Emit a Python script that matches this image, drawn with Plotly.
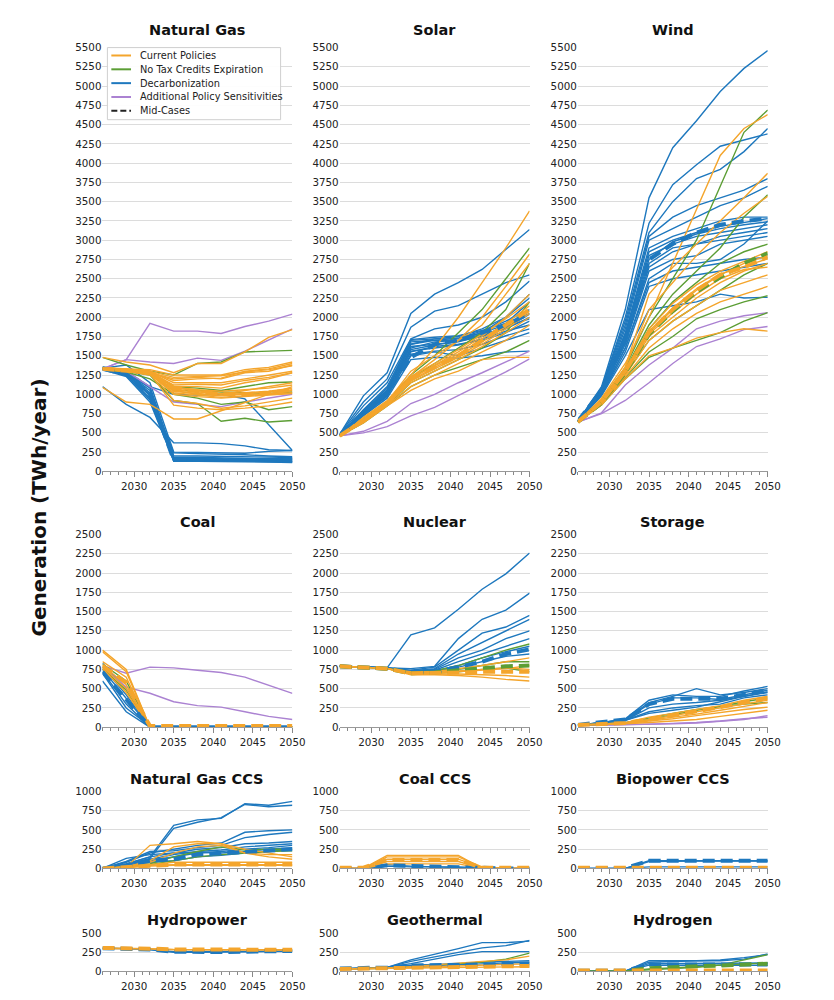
import plotly.graph_objects as go

YEARS = [2026, 2029, 2032, 2035, 2038, 2041, 2044, 2047, 2050]
X_TICKS = [2030, 2035, 2040, 2045, 2050]

PANEL_TITLES = ["Natural Gas", "Solar", "Wind", "Coal", "Nuclear", "Storage",
                "Natural Gas CCS", "Coal CCS", "Biopower CCS",
                "Hydropower", "Geothermal", "Hydrogen"]
Y_MAX = [5500, 5500, 5500, 2500, 2500, 2500, 1000, 1000, 1000, 500, 500, 500]

GROUP_NAMES = ["Current Policies", "No Tax Credits Expiration", "Decarbonization",
               "Additional Policy Sensitivities", "Mid-Cases"]
GROUP_COLORS = ["#F4A52C", "#5C9E35", "#1E78BE", "#AB82D2", "#222222"]

# ---------------- Natural Gas ----------------
NG_DECARB = [
    [1330, 1250, 950, 150, 150, 145, 140, 135, 130],
    [1340, 1260, 1000, 160, 160, 155, 150, 150, 150],
    [1320, 1230, 900, 140, 140, 140, 135, 130, 120],
    [1350, 1280, 1050, 180, 180, 175, 170, 165, 160],
    [1360, 1300, 1100, 200, 200, 195, 190, 185, 180],
    [1330, 1270, 1020, 130, 130, 130, 125, 120, 115],
    [1345, 1290, 1080, 170, 165, 160, 160, 160, 170],
    [1335, 1265, 980, 145, 150, 150, 145, 140, 140],
    [1325, 1245, 930, 135, 135, 135, 130, 125, 125],
    [1100, 870, 700, 370, 370, 360, 330, 280, 270],
    [1330, 1260, 1000, 240, 230, 225, 215, 200, 190],
    [1340, 1380, 1150, 250, 245, 240, 235, 260, 270],
    [1330, 1250, 1100, 1000, 990, 1000, 940, 600, 270],
]
NG_CURRENT = [
    [1480, 1420, 1380, 1280, 1400, 1400, 1550, 1740, 1840],
    [1340, 1330, 1320, 1250, 1250, 1250, 1320, 1350, 1420],
    [1320, 1300, 1280, 1200, 1220, 1200, 1280, 1300, 1380],
    [1330, 1310, 1300, 1150, 1150, 1150, 1200, 1250, 1300],
    [1325, 1305, 1290, 1120, 1130, 1120, 1180, 1220, 1280],
    [1320, 1300, 1250, 1080, 1050, 1000, 1050, 1100, 1150],
    [1340, 1320, 1280, 1050, 1000, 980, 1000, 1000, 1050],
    [1330, 1300, 1260, 1020, 990, 960, 980, 1000, 1020],
    [1090, 900, 870, 680, 680, 790, 900, 1000, 1100],
    [1350, 1330, 1300, 920, 880, 820, 850, 900, 950],
    [1330, 1310, 1290, 1100, 1100, 1080, 1150, 1200, 1280],
    [1320, 1300, 1270, 860, 820, 800, 820, 850, 900],
    [1335, 1315, 1290, 1180, 1200, 1210, 1300, 1330, 1400],
    [1330, 1310, 1270, 1060, 1030, 1010, 1020, 1040, 1080],
    [1325, 1300, 1265, 1040, 1010, 990, 1010, 1030, 1060],
    [1340, 1320, 1285, 1090, 1060, 1040, 1060, 1080, 1120],
    [1330, 1305, 1275, 1000, 970, 950, 970, 990, 1010],
    [1345, 1325, 1300, 1220, 1230, 1240, 1290, 1320, 1370],
]
NG_NOTAX = [
    [1480, 1380, 1300, 1250, 1400, 1420, 1550, 1560, 1570],
    [1330, 1300, 1250, 920, 880, 650, 690, 640, 660],
    [1320, 1290, 1200, 1000, 950, 870, 900, 800, 840],
    [1340, 1310, 1280, 1100, 1080, 1050, 1100, 1150, 1160],
    [1330, 1300, 1260, 1050, 1050, 1030, 1020, 1010, 1030],
]
NG_ADDL = [
    [1330, 1450, 1920, 1820, 1820, 1790, 1880, 1950, 2040],
    [1330, 1450, 1420, 1400, 1470, 1440, 1560, 1700, 1850],
    [1330, 1300, 1100, 900, 870, 840, 900, 950, 1000],
]
NG_MID_CURRENT = [1330, 1310, 1280, 1080, 1040, 1000, 1000, 1020, 1060]
NG_MID_NOTAX = None
NG_MID_DECARB = [1330, 1260, 1000, 150, 150, 150, 150, 145, 145]

# ---------------- Solar ----------------
SOLAR_DECARB = [
    [480, 980, 1280, 2050, 2300, 2450, 2620, 2880, 3140],
    [480, 900, 1200, 1870, 2080, 2150, 2300, 2450, 2550],
    [470, 850, 1150, 1720, 1850, 1900, 2000, 2200, 2470],
    [470, 800, 1100, 1700, 1720, 1720, 1800, 2000, 2300],
    [470, 780, 1050, 1650, 1700, 1700, 1800, 1900, 2050],
    [470, 760, 1020, 1600, 1680, 1700, 1780, 1850, 2000],
    [470, 750, 1000, 1550, 1620, 1650, 1700, 1800, 1950],
    [470, 740, 980, 1500, 1550, 1500, 1600, 1700, 1800],
    [470, 720, 950, 1450, 1480, 1470, 1500, 1550, 1560],
    [470, 730, 990, 1650, 1720, 1750, 1850, 2000, 2250],
    [470, 770, 1040, 1680, 1700, 1730, 1820, 1950, 2100],
    [470, 790, 1080, 1620, 1650, 1680, 1760, 1880, 1980],
    [470, 760, 1030, 1580, 1640, 1690, 1750, 1860, 2040],
    [470, 745, 1010, 1560, 1600, 1640, 1720, 1820, 1900],
    [470, 775, 1060, 1710, 1740, 1760, 1830, 1920, 2200],
    [470, 735, 970, 1520, 1560, 1580, 1650, 1760, 1850],
]
SOLAR_CURRENT = [
    [460, 700, 920, 1250, 1600, 2000, 2450, 2900, 3380],
    [460, 680, 900, 1220, 1450, 1700, 2000, 2400, 2820],
    [460, 660, 880, 1200, 1380, 1550, 1750, 2000, 2300],
    [460, 650, 870, 1150, 1300, 1450, 1620, 1800, 2000],
    [460, 640, 860, 1100, 1250, 1400, 1550, 1700, 1900],
    [460, 630, 850, 1050, 1200, 1300, 1450, 1480, 1480],
    [460, 660, 900, 1300, 1500, 1700, 1900, 2300, 2700],
    [460, 650, 880, 1180, 1350, 1500, 1680, 1880, 2080],
    [460, 655, 885, 1210, 1370, 1520, 1720, 1920, 2150],
    [460, 645, 875, 1170, 1330, 1480, 1650, 1850, 2050],
    [460, 665, 895, 1230, 1400, 1580, 1780, 1980, 2200],
]
SOLAR_NOTAX = [
    [460, 680, 900, 1250, 1500, 1800, 2100, 2500, 2900],
    [460, 660, 880, 1200, 1400, 1600, 1800, 2100, 2700],
    [460, 640, 860, 1150, 1300, 1450, 1600, 1800, 2200],
    [460, 630, 850, 1100, 1250, 1350, 1450, 1550, 1700],
]
SOLAR_ADDL = [
    [460, 500, 580, 720, 830, 980, 1130, 1290, 1460],
    [460, 520, 650, 880, 1000, 1150, 1280, 1420, 1560],
]
SOLAR_MID_CURRENT = [460, 660, 880, 1200, 1350, 1500, 1700, 1900, 2100]
SOLAR_MID_NOTAX = None
SOLAR_MID_DECARB = [470, 760, 1020, 1480, 1650, 1700, 1800, 1900, 2050]

# ---------------- Wind ----------------
WIND_DECARB = [
    [650, 1100, 2100, 3550, 4200, 4550, 4930, 5230, 5460],
    [650, 1080, 2000, 3220, 3720, 3980, 4220, 4300, 4380],
    [650, 1070, 1950, 3100, 3500, 3800, 3920, 4150, 4450],
    [650, 1060, 1900, 3050, 3300, 3450, 3550, 3650, 3800],
    [650, 1050, 1850, 3000, 3150, 3300, 3450, 3550, 3700],
    [650, 1050, 1800, 2900, 3050, 3150, 3250, 3300, 3300],
    [650, 1040, 1750, 2800, 2950, 3050, 3100, 3150, 3200],
    [650, 1030, 1700, 2700, 2900, 2950, 3000, 3050, 3100],
    [650, 1020, 1650, 2600, 2750, 2800, 2950, 3000, 3050],
    [650, 1000, 1600, 2450, 2600, 2650, 2700, 2750, 2780],
    [650, 990, 1550, 2400, 2500, 2550, 2600, 2650, 2700],
    [650, 980, 1500, 2100, 2150, 2200, 2300, 2250, 2260],
    [650, 1000, 1600, 2500, 2700, 2700, 2750, 2950, 3250],
    [650, 1045, 1780, 2850, 3000, 3100, 3180, 3230, 3280],
    [650, 1035, 1720, 2750, 2980, 3080, 3150, 3200, 3240],
    [650, 1025, 1680, 2650, 2850, 2950, 3050, 3100, 3150],
]
WIND_CURRENT = [
    [640, 950, 1400, 2000, 2700, 3400, 4100, 4450, 4630],
    [640, 930, 1350, 2300, 2650, 2950, 3250, 3550, 3870],
    [640, 920, 1350, 2100, 2450, 2800, 3100, 3350, 3570],
    [640, 900, 1300, 1800, 2100, 2350, 2550, 2700, 2800],
    [640, 890, 1280, 1750, 2000, 2250, 2450, 2600, 2700],
    [640, 880, 1250, 1700, 1950, 2150, 2350, 2450, 2550],
    [640, 870, 1230, 1600, 1850, 2050, 2200, 2300, 2400],
    [640, 860, 1200, 1500, 1600, 1730, 1800, 1850, 1820],
    [640, 905, 1310, 1820, 2120, 2370, 2560, 2660, 2760],
    [640, 895, 1290, 1780, 2060, 2300, 2500, 2620, 2650],
    [640, 910, 1320, 1850, 2180, 2420, 2600, 2720, 2850],
]
WIND_NOTAX = [
    [640, 930, 1350, 2000, 2500, 3000, 3700, 4400, 4690],
    [640, 910, 1320, 1900, 2300, 2600, 2900, 3300, 3590],
    [640, 900, 1300, 1850, 2200, 2450, 2700, 2850, 2950],
    [640, 880, 1260, 1700, 1950, 2150, 2350, 2550, 2700],
    [640, 870, 1220, 1550, 1750, 1980, 2100, 2200, 2280],
    [640, 860, 1200, 1480, 1600, 1700, 1800, 1950, 2060],
]
WIND_ADDL = [
    [640, 750, 920, 1150, 1400, 1620, 1720, 1840, 1880],
    [640, 760, 1120, 1380, 1600, 1850, 1950, 2020, 2060],
]
WIND_MID_CURRENT = [640, 900, 1300, 1800, 2100, 2350, 2550, 2650, 2780]
WIND_MID_NOTAX = [640, 890, 1280, 1780, 2080, 2330, 2520, 2700, 2830]
WIND_MID_DECARB = [650, 1050, 1700, 2750, 2950, 3100, 3200, 3250, 3280]

# ---------------- Coal ----------------
COAL_DECARB = [
    [750, 380, 0, 0, 0, 0, 0, 0, 0],
    [720, 300, 0, 0, 0, 0, 0, 0, 0],
    [700, 250, 10, 0, 0, 0, 0, 0, 0],
    [830, 500, 0, 0, 0, 0, 0, 0, 0],
    [600, 200, 0, 0, 0, 0, 0, 0, 0],
    [780, 420, 0, 0, 0, 0, 0, 0, 0],
]
COAL_CURRENT = [
    [1000, 750, 0, 0, 0, 0, 0, 0, 0],
    [850, 650, 0, 0, 0, 0, 0, 0, 0],
    [800, 550, 0, 0, 0, 0, 0, 0, 0],
    [780, 500, 0, 0, 0, 0, 0, 0, 0],
    [760, 450, 0, 0, 0, 0, 0, 0, 0],
    [980, 720, 0, 0, 0, 0, 0, 0, 0],
]
COAL_NOTAX = [
    [820, 600, 0, 0, 0, 0, 0, 0, 0],
    [760, 480, 0, 0, 0, 0, 0, 0, 0],
]
COAL_ADDL = [
    [800, 700, 780, 770, 740, 710, 650, 540, 440],
    [780, 520, 440, 330, 280, 260, 200, 140, 100],
]
COAL_MID_CURRENT = [800, 580, 15, 15, 15, 15, 15, 15, 15]
COAL_MID_NOTAX = None
COAL_MID_DECARB = [720, 350, 0, 0, 0, 0, 0, 0, 0]

# ---------------- Nuclear ----------------
NUC_DECARB = [
    [790, 780, 770, 1200, 1290, 1530, 1790, 1990, 2260],
    [790, 780, 770, 760, 790, 1150, 1400, 1520, 1740],
    [790, 780, 770, 740, 780, 1000, 1220, 1300, 1450],
    [790, 780, 770, 730, 760, 950, 1100, 1250, 1400],
    [790, 780, 770, 720, 750, 900, 1000, 1150, 1250],
    [790, 780, 770, 720, 740, 850, 950, 1050, 1150],
    [790, 780, 770, 710, 730, 800, 900, 980, 1050],
    [790, 780, 770, 700, 720, 780, 850, 920, 950],
]
NUC_CURRENT = [
    [790, 780, 760, 700, 700, 720, 740, 760, 800],
    [790, 780, 760, 690, 690, 690, 680, 670, 650],
    [790, 780, 760, 680, 680, 670, 650, 620, 600],
    [790, 780, 760, 720, 720, 760, 800, 850, 900],
    [790, 780, 760, 700, 710, 730, 750, 770, 750],
]
NUC_NOTAX = [
    [790, 780, 760, 710, 730, 800, 900, 1000, 1080],
    [790, 780, 760, 700, 720, 750, 800, 850, 850],
    [790, 780, 760, 690, 700, 720, 750, 770, 720],
]
NUC_ADDL = []
NUC_MID_CURRENT = [790, 780, 760, 700, 700, 710, 720, 720, 720]
NUC_MID_NOTAX = [790, 780, 760, 700, 710, 740, 770, 790, 800]
NUC_MID_DECARB = [790, 780, 760, 720, 720, 780, 850, 950, 1010]

# ---------------- Storage ----------------
STOR_DECARB = [
    [30, 60, 110, 350, 420, 400, 400, 470, 530],
    [30, 60, 100, 320, 400, 500, 420, 450, 500],
    [30, 60, 100, 300, 380, 380, 360, 420, 480],
    [30, 55, 90, 250, 300, 320, 350, 400, 450],
    [30, 55, 90, 200, 250, 280, 300, 380, 420],
    [30, 55, 90, 180, 220, 260, 330, 400, 460],
]
STOR_CURRENT = [
    [30, 40, 60, 130, 180, 230, 280, 350, 400],
    [30, 40, 55, 100, 150, 200, 250, 300, 350],
    [30, 35, 50, 80, 110, 150, 190, 230, 260],
    [30, 35, 45, 60, 80, 100, 140, 180, 220],
    [30, 35, 50, 90, 130, 170, 220, 270, 320],
]
STOR_NOTAX = [
    [30, 40, 60, 120, 180, 230, 270, 330, 380],
    [30, 35, 55, 100, 160, 220, 270, 300, 320],
]
STOR_ADDL = [
    [20, 25, 30, 40, 50, 60, 80, 110, 130],
    [20, 25, 30, 35, 45, 55, 75, 100, 150],
]
STOR_MID_CURRENT = [30, 40, 55, 100, 150, 200, 260, 320, 380]
STOR_MID_NOTAX = None
STOR_MID_DECARB = [30, 60, 100, 300, 370, 370, 370, 420, 480]

# ---------------- Natural Gas CCS ----------------
NGCCS_DECARB = [
    [0, 60, 150, 560, 630, 650, 840, 820, 870],
    [0, 50, 130, 520, 600, 660, 830, 800, 820],
    [0, 80, 200, 250, 300, 330, 470, 490, 500],
    [0, 90, 220, 230, 270, 300, 400, 440, 470],
    [0, 60, 150, 200, 250, 270, 320, 330, 350],
    [0, 50, 120, 180, 220, 240, 280, 300, 320],
    [0, 40, 100, 150, 200, 220, 250, 270, 300],
    [0, 130, 180, 200, 210, 200, 220, 250, 270],
    [0, 30, 80, 100, 150, 170, 200, 220, 250],
]
NGCCS_CURRENT = [
    [0, 20, 300, 320, 350, 320, 200, 150, 120],
    [0, 20, 100, 280, 320, 320, 250, 200, 150],
    [0, 20, 80, 200, 280, 300, 200, 180, 180],
    [0, 20, 50, 80, 80, 80, 80, 80, 80],
    [0, 20, 40, 50, 50, 50, 50, 50, 50],
    [0, 10, 30, 40, 40, 40, 40, 40, 40],
]
NGCCS_NOTAX = [
    [0, 20, 60, 150, 220, 280, 240, 250, 250],
    [0, 20, 50, 100, 150, 180, 200, 220, 230],
]
NGCCS_ADDL = []
NGCCS_MID_CURRENT = [0, 20, 40, 50, 50, 50, 50, 50, 50]
NGCCS_MID_NOTAX = None
NGCCS_MID_DECARB = [0, 40, 100, 120, 180, 200, 220, 230, 250]

# ---------------- Coal CCS ----------------
CCCS_DECARB = [
    [0, 0, 50, 30, 20, 20, 10, 0, 0],
    [0, 0, 30, 20, 20, 10, 0, 0, 0],
]
CCCS_CURRENT = [
    [0, 0, 170, 170, 170, 170, 0, 0, 0],
    [0, 0, 150, 150, 150, 150, 20, 0, 0],
    [0, 0, 120, 120, 120, 120, 10, 0, 0],
    [0, 0, 90, 90, 90, 90, 0, 0, 0],
    [0, 0, 60, 60, 60, 60, 0, 0, 0],
]
CCCS_NOTAX = []
CCCS_ADDL = []
CCCS_MID_CURRENT = [10, 10, 110, 110, 110, 110, 10, 10, 10]
CCCS_MID_NOTAX = None
CCCS_MID_DECARB = [0, 0, 40, 30, 20, 20, 0, 0, 0]

# ---------------- Biopower CCS ----------------
BCCS_DECARB = [
    [0, 0, 0, 100, 100, 100, 100, 100, 100],
    [0, 0, 0, 90, 95, 95, 95, 95, 95],
    [0, 0, 0, 20, 20, 20, 20, 20, 20],
]
BCCS_CURRENT = []
BCCS_NOTAX = []
BCCS_ADDL = []
BCCS_MID_CURRENT = [8, 8, 8, 8, 8, 8, 8, 8, 8]
BCCS_MID_NOTAX = None
BCCS_MID_DECARB = [5, 5, 5, 100, 100, 100, 100, 100, 100]

# ---------------- Hydropower ----------------
HYDRO_DECARB = [
    [310, 305, 290, 260, 260, 255, 260, 265, 270],
    [300, 300, 285, 250, 250, 250, 255, 260, 265],
]
HYDRO_CURRENT = [
    [310, 310, 300, 290, 290, 285, 285, 285, 285],
    [300, 300, 295, 285, 280, 280, 280, 280, 280],
]
HYDRO_NOTAX = []
HYDRO_ADDL = []
HYDRO_MID_CURRENT = [310, 310, 300, 290, 290, 290, 290, 285, 285]
HYDRO_MID_NOTAX = None
HYDRO_MID_DECARB = [305, 300, 290, 260, 255, 255, 260, 265, 270]

# ---------------- Geothermal ----------------
GEO_DECARB = [
    [30, 40, 50, 150, 220, 300, 380, 380, 400],
    [30, 40, 50, 130, 190, 260, 310, 340, 410],
    [30, 40, 50, 100, 160, 220, 260, 260, 260],
    [30, 40, 50, 80, 90, 100, 120, 130, 140],
    [30, 40, 50, 70, 80, 90, 100, 110, 120],
]
GEO_CURRENT = [
    [30, 35, 40, 60, 80, 100, 130, 150, 200],
    [30, 35, 40, 50, 60, 70, 80, 90, 100],
    [30, 35, 40, 45, 50, 55, 60, 60, 60],
]
GEO_NOTAX = [
    [30, 35, 40, 60, 80, 100, 120, 160, 240],
]
GEO_ADDL = []
GEO_MID_CURRENT = [30, 35, 40, 45, 50, 55, 60, 65, 70]
GEO_MID_NOTAX = None
GEO_MID_DECARB = [35, 40, 50, 75, 80, 85, 90, 95, 100]

# ---------------- Hydrogen ----------------
H2_DECARB = [
    [0, 0, 0, 140, 140, 140, 140, 160, 230],
    [0, 0, 0, 120, 130, 140, 150, 180, 220],
    [0, 0, 0, 100, 100, 100, 110, 110, 110],
    [0, 0, 0, 80, 80, 80, 80, 80, 80],
]
H2_CURRENT = []
H2_NOTAX = [
    [0, 0, 0, 20, 30, 50, 80, 150, 220],
    [0, 0, 0, 30, 40, 60, 80, 100, 110],
]
H2_ADDL = []
H2_MID_CURRENT = [10, 10, 10, 10, 10, 10, 10, 10, 10]
H2_MID_NOTAX = [0, 0, 0, 40, 50, 60, 70, 90, 100]
H2_MID_DECARB = [5, 5, 5, 90, 90, 90, 90, 90, 90]

PANEL_DATA = [
    (NG_DECARB, NG_ADDL, NG_NOTAX, NG_CURRENT, NG_MID_DECARB, NG_MID_NOTAX, NG_MID_CURRENT),
    (SOLAR_DECARB, SOLAR_ADDL, SOLAR_NOTAX, SOLAR_CURRENT, SOLAR_MID_DECARB, SOLAR_MID_NOTAX, SOLAR_MID_CURRENT),
    (WIND_DECARB, WIND_ADDL, WIND_NOTAX, WIND_CURRENT, WIND_MID_DECARB, WIND_MID_NOTAX, WIND_MID_CURRENT),
    (COAL_DECARB, COAL_ADDL, COAL_NOTAX, COAL_CURRENT, COAL_MID_DECARB, COAL_MID_NOTAX, COAL_MID_CURRENT),
    (NUC_DECARB, NUC_ADDL, NUC_NOTAX, NUC_CURRENT, NUC_MID_DECARB, NUC_MID_NOTAX, NUC_MID_CURRENT),
    (STOR_DECARB, STOR_ADDL, STOR_NOTAX, STOR_CURRENT, STOR_MID_DECARB, STOR_MID_NOTAX, STOR_MID_CURRENT),
    (NGCCS_DECARB, NGCCS_ADDL, NGCCS_NOTAX, NGCCS_CURRENT, NGCCS_MID_DECARB, NGCCS_MID_NOTAX, NGCCS_MID_CURRENT),
    (CCCS_DECARB, CCCS_ADDL, CCCS_NOTAX, CCCS_CURRENT, CCCS_MID_DECARB, CCCS_MID_NOTAX, CCCS_MID_CURRENT),
    (BCCS_DECARB, BCCS_ADDL, BCCS_NOTAX, BCCS_CURRENT, BCCS_MID_DECARB, BCCS_MID_NOTAX, BCCS_MID_CURRENT),
    (HYDRO_DECARB, HYDRO_ADDL, HYDRO_NOTAX, HYDRO_CURRENT, HYDRO_MID_DECARB, HYDRO_MID_NOTAX, HYDRO_MID_CURRENT),
    (GEO_DECARB, GEO_ADDL, GEO_NOTAX, GEO_CURRENT, GEO_MID_DECARB, GEO_MID_NOTAX, GEO_MID_CURRENT),
    (H2_DECARB, H2_ADDL, H2_NOTAX, H2_CURRENT, H2_MID_DECARB, H2_MID_NOTAX, H2_MID_CURRENT),
]

# ---------------- layout geometry (page pixels) ----------------
OFF = 8                      # default page body margin
W, H = 834 - 2 * OFF, 1000 - 2 * OFF
COL_X = [(104, 297), (345, 538), (587, 780)]
ROW_Y = [(42, 471), (535, 730), (795, 873), (939, 977)]
TITLE_Y = [24, 522, 782, 925]
LEGEND_BOX = (109, 42, 285, 115)
LEGEND_ROWS = [50, 64, 78, 92, 106]


def fx(px):
    return (px - OFF) / W


def fy(py):
    return 1 - (py - OFF) / H


CUR, NOTAX, DEC, ADDL, MID = GROUP_COLORS
FONT = "DejaVu Sans"
TICK_SIZE = 10.3

fig = go.Figure()
layout = dict(
    width=W, height=H, margin=dict(l=0, r=0, t=0, b=0),
    paper_bgcolor="white", plot_bgcolor="white", showlegend=False,
    font=dict(family=FONT, size=TICK_SIZE, color="#222"),
)
annotations = []
shapes = []

for i, title in enumerate(PANEL_TITLES):
    r, c = divmod(i, 3)
    k = i + 1
    xs = "x" if k == 1 else f"x{k}"
    ys = "y" if k == 1 else f"y{k}"
    x0, x1 = COL_X[c]
    y0, y1 = ROW_Y[r]
    layout["xaxis" if k == 1 else f"xaxis{k}"] = dict(
        domain=[fx(x0), fx(x1)], anchor=ys, range=[2026, 2050],
        tickvals=X_TICKS, ticks="outside", ticklen=5, tickcolor="#888",
        showline=True, linecolor="#999", linewidth=1, showgrid=False, zeroline=False,
        minor=dict(dtick=1, tick0=2026, ticks="outside", ticklen=3, tickcolor="#888", showgrid=False),
        tickfont=dict(size=TICK_SIZE, color="#222"), fixedrange=True,
    )
    ymax = Y_MAX[i]
    layout["yaxis" if k == 1 else f"yaxis{k}"] = dict(
        domain=[fy(y1), fy(y0)], anchor=xs, range=[0, ymax],
        tickvals=list(range(0, ymax + 1, 250)), showline=False, ticks="",
        showgrid=True, gridcolor="#DCDCDC", gridwidth=1.3, zeroline=False,
        tickfont=dict(size=TICK_SIZE, color="#222"), fixedrange=True,
    )
    annotations.append(dict(
        text=f"<b>{title}</b>", xref="paper", yref="paper",
        x=fx((x0 + x1) / 2), y=fy(TITLE_Y[r]),
        xanchor="center", yanchor="middle", showarrow=False,
        font=dict(family=FONT, size=14.5, color="#111"),
    ))

    dec, addl, notax, cur, mdec, mnotax, mcur = PANEL_DATA[i]
    for group, color in ((dec, DEC), (addl, ADDL), (notax, NOTAX), (cur, CUR)):
        for vals in group:
            fig.add_trace(go.Scatter(
                x=YEARS, y=vals, mode="lines", xaxis=xs, yaxis=ys,
                line=dict(color=color, width=1.4), showlegend=False, hoverinfo="skip",
            ))
    for vals, color in ((mdec, DEC), (mnotax, NOTAX), (mcur, CUR)):
        if vals is None:
            continue
        fig.add_trace(go.Scatter(
            x=YEARS, y=vals, mode="lines", xaxis=xs, yaxis=ys,
            line=dict(color=color, width=4, dash="12px,6px"), showlegend=False, hoverinfo="skip",
        ))

# legend box (drawn inside the Natural Gas panel)
bx0, by0, bx1, by1 = LEGEND_BOX
shapes.append(dict(
    type="rect", xref="paper", yref="paper", layer="above",
    x0=fx(bx0), x1=fx(bx1), y0=fy(by1), y1=fy(by0),
    fillcolor="rgba(255,255,255,0.92)", line=dict(color="#CFCFCF", width=1),
))
for name, color, ry in zip(GROUP_NAMES, GROUP_COLORS, LEGEND_ROWS):
    shapes.append(dict(
        type="line", xref="paper", yref="paper", layer="above",
        x0=fx(113), x1=fx(133), y0=fy(ry), y1=fy(ry),
        line=dict(color=color, width=2, dash="6px,3px" if name == "Mid-Cases" else "solid"),
    ))
    annotations.append(dict(
        text=name, xref="paper", yref="paper", x=fx(140), y=fy(ry),
        xanchor="left", yanchor="middle", showarrow=False,
        font=dict(family=FONT, size=9.8, color="#222"),
    ))

annotations.append(dict(
    text="<b>Generation (TWh/year)</b>", xref="paper", yref="paper",
    x=fx(39), y=fy(508), xanchor="center", yanchor="middle",
    textangle=-90, showarrow=False, font=dict(family=FONT, size=20, color="#111"),
))

layout["annotations"] = annotations
layout["shapes"] = shapes
fig.update_layout(**layout)
fig.write_html("out.html", config={"displayModeBar": False})
